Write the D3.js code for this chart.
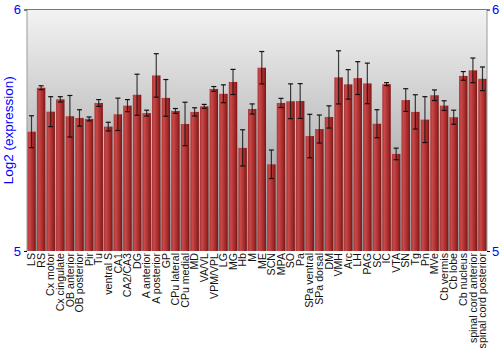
<!DOCTYPE html>
<html>
<head>
<meta charset="utf-8">
<script src="https://cdn.jsdelivr.net/npm/d3@7"></script>
<style>
  body { margin: 0; background: #fff; }
  svg { display: block; }
</style>
</head>
<body>
<div id="chart"></div>
<script>
const categories = ['LS', 'RS', 'Cx motor', 'Cx cingulate', 'OB anterior', 'OB posterior', 'Pir', 'Tu',
  'ventral S', 'CA1', 'CA2/CA3', 'DG', 'A anterior', 'A posterior', 'GP', 'CPu lateral', 'CPu medial',
  'MD', 'VA/VL', 'VPM/VPL', 'LG', 'MG', 'Hb', 'M', 'ME', 'SCN', 'MPA', 'SO', 'Pa', 'SPa ventral',
  'SPa dorsal', 'DM', 'VMH', 'Arc', 'LH', 'PAG', 'SC', 'IC', 'VTA', 'SN', 'Tg', 'Pn', 'MVe',
  'Cb vermis', 'Cb lobe', 'Cb nucleus', 'spinal cord anterior', 'spinal cord posterior'];

const values = [5.494, 5.676, 5.577, 5.628, 5.558, 5.551, 5.547, 5.613,
  5.515, 5.566, 5.602, 5.647, 5.571, 5.727, 5.634, 5.580, 5.526,
  5.576, 5.599, 5.671, 5.651, 5.700, 5.427, 5.588, 5.759, 5.359, 5.613, 5.620, 5.621, 5.476,
  5.505, 5.555, 5.719, 5.690, 5.716, 5.694, 5.527, 5.691, 5.402, 5.625, 5.576, 5.544, 5.645,
  5.602, 5.554, 5.725, 5.748, 5.713];

const errors = [0.066, 0.008, 0.062, 0.011, 0.086, 0.034, 0.008, 0.014,
  0.018, 0.067, 0.025, 0.085, 0.012, 0.090, 0.076, 0.010, 0.090,
  0.017, 0.008, 0.010, 0.037, 0.052, 0.075, 0.021, 0.067, 0.059, 0.019, 0.072, 0.072, 0.090,
  0.058, 0.046, 0.110, 0.061, 0.068, 0.084, 0.058, 0.006, 0.024, 0.047, 0.071, 0.095, 0.022,
  0.020, 0.029, 0.018, 0.051, 0.049];

const yTicks = [5, 6];

const W = 500, H = 350;
const margin = { top: 9.5, right: 13, bottom: 99, left: 27 };
const width = W - margin.left - margin.right;
const height = H - margin.top - margin.bottom;

const svg = d3.select('#chart').append('svg')
  .attr('width', W)
  .attr('height', H);

const defs = svg.append('defs');

const bg = defs.append('linearGradient')
  .attr('id', 'bg').attr('x1', 0).attr('y1', 0).attr('x2', 0).attr('y2', 1);
bg.append('stop').attr('offset', '0%').attr('stop-color', '#f3f3f3');
bg.append('stop').attr('offset', '100%').attr('stop-color', '#909090');

const barGrad = defs.append('linearGradient')
  .attr('id', 'bar').attr('x1', 0).attr('y1', 0).attr('x2', 1).attr('y2', 0);
barGrad.append('stop').attr('offset', '0%').attr('stop-color', '#a83535');
barGrad.append('stop').attr('offset', '25%').attr('stop-color', '#c84848');
barGrad.append('stop').attr('offset', '70%').attr('stop-color', '#a52a2a');
barGrad.append('stop').attr('offset', '100%').attr('stop-color', '#7a1515');

const g = svg.append('g')
  .attr('transform', `translate(${margin.left},${margin.top})`);

g.append('rect')
  .attr('width', width)
  .attr('height', height)
  .attr('fill', 'url(#bg)');

const x = d3.scaleBand()
  .domain(categories)
  .range([0, width])
  .paddingInner(0.12)
  .paddingOuter(0.03);

const y = d3.scaleLinear()
  .domain([5, 6])
  .range([height, 0]);

// bars
g.selectAll('rect.bar')
  .data(categories)
  .enter().append('rect')
  .attr('class', 'bar')
  .attr('x', d => x(d))
  .attr('y', (d, i) => y(values[i]))
  .attr('width', x.bandwidth())
  .attr('height', (d, i) => height - y(values[i]))
  .attr('fill', 'url(#bar)');

// error bars
const eb = g.selectAll('g.err')
  .data(categories)
  .enter().append('g')
  .attr('class', 'err')
  .attr('stroke', '#111')
  .attr('stroke-width', 1.2);

eb.append('line')
  .attr('x1', d => x(d) + x.bandwidth() / 2)
  .attr('x2', d => x(d) + x.bandwidth() / 2)
  .attr('y1', (d, i) => y(values[i] + errors[i]))
  .attr('y2', (d, i) => y(values[i] - errors[i]))
  .attr('stroke-opacity', 0.8);

eb.append('line')
  .attr('x1', d => x(d) + x.bandwidth() / 2 - 2.5)
  .attr('x2', d => x(d) + x.bandwidth() / 2 + 2.5)
  .attr('y1', (d, i) => y(values[i] + errors[i]))
  .attr('y2', (d, i) => y(values[i] + errors[i]));

eb.append('line')
  .attr('x1', d => x(d) + x.bandwidth() / 2 - 2.5)
  .attr('x2', d => x(d) + x.bandwidth() / 2 + 2.5)
  .attr('y1', (d, i) => y(values[i] - errors[i]))
  .attr('y2', (d, i) => y(values[i] - errors[i]));

// frame
g.append('line')
  .attr('x1', 0).attr('x2', width).attr('y1', 0).attr('y2', 0)
  .attr('stroke', '#777');
g.append('line')
  .attr('x1', 0).attr('x2', 0).attr('y1', 0).attr('y2', height)
  .attr('stroke', '#999');
g.append('line')
  .attr('x1', width).attr('x2', width).attr('y1', 0).attr('y2', height)
  .attr('stroke', '#999');

// y axes
const left = g.append('g')
  .call(d3.axisLeft(y).tickValues(yTicks).tickSize(3).tickFormat(d3.format('d')));
left.select('.domain').remove();
left.selectAll('text')
  .attr('fill', '#0000ff')
  .style('font-family', 'Liberation Sans, Arial, sans-serif')
  .style('font-size', '13px')
  .attr('x', -6);

const right = g.append('g')
  .attr('transform', `translate(${width},0)`)
  .call(d3.axisRight(y).tickValues(yTicks).tickSize(3).tickFormat(d3.format('d')));
right.select('.domain').remove();
right.selectAll('text')
  .attr('fill', '#0000ff')
  .style('font-family', 'Liberation Sans, Arial, sans-serif')
  .style('font-size', '13px')
  .attr('x', 5);

// x axis labels
const bottom = g.append('g')
  .attr('transform', `translate(0,${height})`)
  .call(d3.axisBottom(x).tickSize(0));
bottom.select('.domain').remove();
bottom.selectAll('text')
  .attr('transform', 'rotate(-90)')
  .attr('x', -2)
  .attr('y', 0)
  .attr('dy', '0.35em')
  .style('text-anchor', 'end')
  .style('font-family', 'Liberation Sans, Arial, sans-serif')
  .style('font-size', '10.6px')
  .attr('fill', '#111');

// y label
svg.append('text')
  .attr('transform', `translate(13,${margin.top + height / 2}) rotate(-90)`)
  .attr('text-anchor', 'middle')
  .attr('fill', '#0000ff')
  .style('font-family', 'Liberation Sans, Arial, sans-serif')
  .style('font-size', '13.5px')
  .text('Log2 (expression)');
</script>
</body>
</html>
